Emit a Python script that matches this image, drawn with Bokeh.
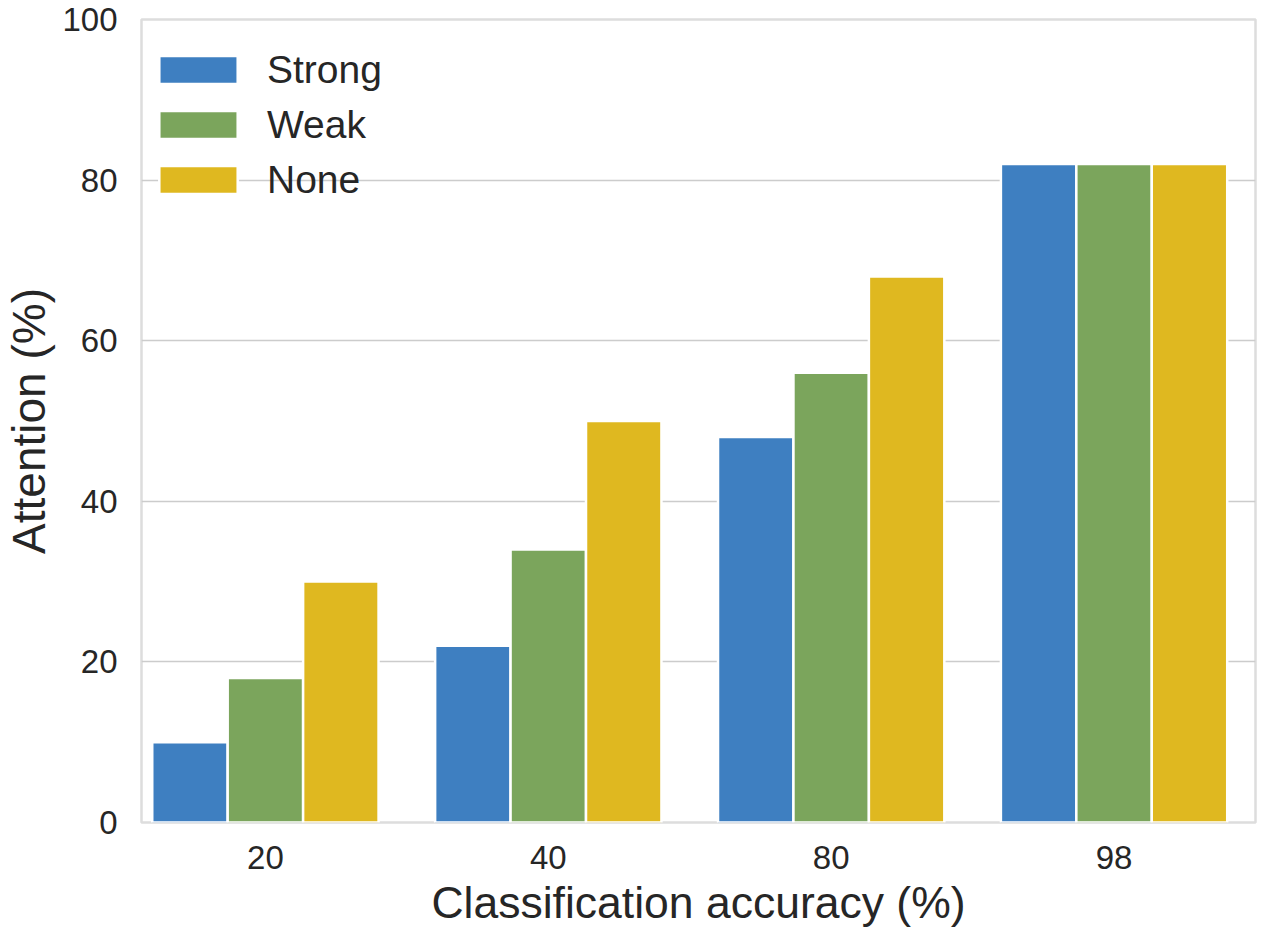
from bokeh.plotting import figure
from bokeh.models import ColumnDataSource, Range1d, FixedTicker, Legend, LegendItem
from bokeh.transform import dodge
from bokeh.embed import file_html
from bokeh.resources import INLINE

accuracy = ["20", "40", "80", "98"]
strong = [10, 22, 48, 82]
weak = [18, 34, 56, 82]
none_ = [30, 50, 68, 82]
series_names = ["Strong", "Weak", "None"]
colors = ["#3e7fc1", "#7ba55c", "#dfb820"]
y_ticks = [0, 20, 40, 60, 80, 100]

pos = list(range(len(accuracy)))
src = ColumnDataSource(dict(x=pos, Strong=strong, Weak=weak, None_=none_))

FONT = "Liberation Sans"
TXT = "#262626"

p = figure(width=1257, height=930, output_backend="svg", toolbar_location=None,
           x_range=Range1d(-0.438, 3.5), y_range=Range1d(0, 100),
           min_border_left=140, min_border_right=2, min_border_top=19, min_border_bottom=108)

bw = 0.8 / 3
renderers = []
for i, (name, col, c) in enumerate(zip(series_names, ["Strong", "Weak", "None_"], colors)):
    r = p.vbar(x=dodge("x", (i - 1) * bw, range=p.x_range), top=col, width=bw, bottom=0,
               source=src, fill_color=c, line_color="white", line_width=2.5)
    renderers.append((name, r))

p.xaxis.ticker = FixedTicker(ticks=pos)
p.xaxis.major_label_overrides = {i: a for i, a in zip(pos, accuracy)}
p.yaxis.ticker = FixedTicker(ticks=y_ticks)

for ax in (p.xaxis[0], p.yaxis[0]):
    ax.axis_line_color = None
    ax.major_tick_line_color = None
    ax.minor_tick_line_color = None
    ax.major_tick_out = 0
    ax.major_tick_in = 0
    ax.major_label_text_font = FONT
    ax.major_label_text_font_size = "33px"
    ax.major_label_text_color = TXT
    ax.axis_label_text_font = FONT
    ax.axis_label_text_font_style = "normal"
    ax.axis_label_text_color = TXT

p.xaxis.axis_label = "Classification accuracy (%)"
p.yaxis.axis_label = "Attention (%)"
p.xaxis.axis_label_text_font_size = "44.5px"
p.yaxis.axis_label_text_font_size = "46px"
p.xaxis.major_label_standoff = 23
p.xaxis.axis_label_standoff = 6
p.yaxis.major_label_standoff = 24
p.yaxis.axis_label_standoff = 4

p.xgrid.grid_line_color = None
p.ygrid.grid_line_color = "#cccccc"
p.ygrid.grid_line_width = 1.5

p.outline_line_color = "#dddddd"
p.outline_line_width = 2.5
p.background_fill_color = "white"
p.border_fill_color = "white"

legend = Legend(items=[LegendItem(label=n, renderers=[r]) for n, r in renderers],
                location=(0, 612), orientation="vertical")
legend.label_text_font = FONT
legend.label_text_font_size = "39px"
legend.label_text_color = TXT
legend.glyph_width = 98
legend.glyph_height = 35
legend.label_standoff = 20
legend.label_height = 45
legend.spacing = 10
legend.padding = 8
legend.margin = 0
legend.border_line_alpha = 0
legend.background_fill_alpha = 0
p.add_layout(legend)

open("out.html", "w").write(file_html(p, INLINE))
